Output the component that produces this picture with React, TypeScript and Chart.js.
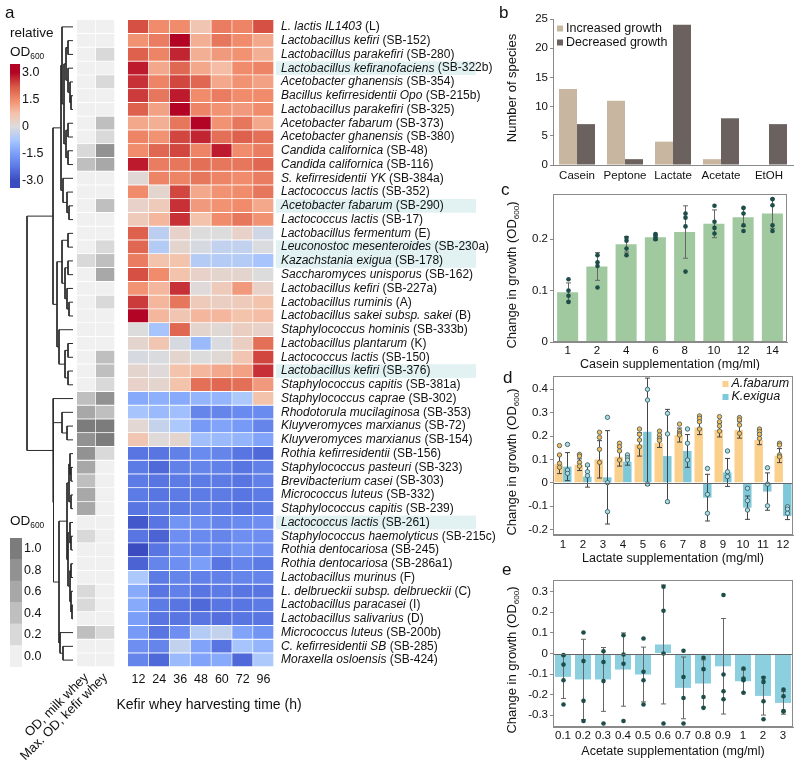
import React, { useEffect, useRef } from "react";
import { Chart, registerables } from "chart.js";
Chart.register(...registerables);

const FONT = "'Liberation Sans', Arial, Helvetica, sans-serif";
Chart.defaults.font.family = FONT;
Chart.defaults.color = "#111";

// ---------------- DATA ----------------
const TIMES = ["12", "24", "36", "48", "60", "72", "96"];
const OD_COLS = ["OD, milk whey", "Max. OD, kefir whey"];

const SPECIES = [
  "L. lactis IL1403", "Lactobacillus kefiri", "Lactobacillus parakefiri", "Lactobacillus kefiranofaciens",
  "Acetobacter ghanensis", "Bacillus kefirresidentii Opo", "Lactobacillus parakefiri", "Acetobacter fabarum",
  "Acetobacter ghanensis", "Candida californica", "Candida californica", "S. kefirresidentii YK",
  "Lactococcus lactis", "Acetobacter fabarum", "Lactococcus lactis", "Lactobacillus fermentum",
  "Leuconostoc mesenteroides", "Kazachstania exigua", "Saccharomyces unisporus", "Lactobacillus kefiri",
  "Lactobacillus ruminis", "Lactobacillus sakei subsp. sakei", "Staphylococcus hominis", "Lactobacillus plantarum",
  "Lactococcus lactis", "Lactobacillus kefiri", "Staphylococcus capitis", "Staphylococcus caprae",
  "Rhodotorula mucilaginosa", "Kluyveromyces marxianus", "Kluyveromyces marxianus", "Rothia kefirresidentii",
  "Staphylococcus pasteuri", "Brevibacterium casei", "Micrococcus luteus", "Staphylococcus capitis",
  "Lactococcus lactis", "Staphylococcus haemolyticus", "Rothia dentocariosa", "Rothia dentocariosa",
  "Lactobacillus murinus", "L. delbrueckii subsp. delbrueckii", "Lactobacillus paracasei", "Lactobacillus salivarius",
  "Micrococcus luteus", "C. kefirresidentii SB", "Moraxella osloensis",
];
const STRAINS = [
  "(L)", "(SB-152)", "(SB-280)", "(SB-322b)", "(SB-354)", "(SB-215b)", "(SB-325)", "(SB-373)", "(SB-380)",
  "(SB-48)", "(SB-116)", "(SB-384a)", "(SB-352)", "(SB-290)", "(SB-17)", "(E)", "(SB-230a)", "(SB-178)",
  "(SB-162)", "(SB-227a)", "(A)", "(B)", "(SB-333b)", "(K)", "(SB-150)", "(SB-376)", "(SB-381a)", "(SB-302)",
  "(SB-353)", "(SB-72)", "(SB-154)", "(SB-156)", "(SB-323)", "(SB-303)", "(SB-332)", "(SB-239)", "(SB-261)",
  "(SB-215c)", "(SB-245)", "(SB-286a1)", "(F)", "(C)", "(I)", "(D)", "(SB-200b)", "(SB-285)", "(SB-424)",
];
const HIGHLIGHT = [3, 13, 16, 17, 25, 36];

// relative OD600 per harvesting time (rows follow SPECIES)
const HM = [
  [2.3, 1.5, 1.5, 0.6, 1.7, 1.6, 2.3],
  [1.4, 1.7, 3.0, 1.0, 1.8, 1.5, 1.1],
  [2.1, 1.6, 2.7, 1.0, 1.3, 1.4, 1.0],
  [2.8, 1.1, 2.0, 1.1, 0.8, 1.5, 1.6],
  [2.6, 1.6, 2.4, 2.0, 1.1, 1.4, 1.2],
  [2.5, 1.8, 2.8, 1.5, 1.7, 1.5, 1.5],
  [2.1, 1.2, 3.0, 1.6, 1.4, 1.3, 1.5],
  [1.1, 1.0, 1.8, 3.0, 1.4, 1.8, 1.1],
  [1.6, 1.4, 2.4, 2.7, 1.9, 2.1, 1.9],
  [1.5, 2.0, 2.4, 1.6, 2.8, 1.5, 1.7],
  [2.8, 1.7, 1.8, 1.9, 1.8, 1.8, 2.0],
  [0.1, 1.6, 1.6, 1.8, 1.6, 1.5, 1.7],
  [1.5, 0.2, 2.4, 1.1, 1.4, 1.5, 1.8],
  [0.3, 0.5, 2.6, 1.3, 1.4, 1.5, 1.1],
  [0.5, 0.9, 2.6, 0.7, 1.5, 1.8, 1.4],
  [2.1, -0.5, 0.3, 0.0, 0.0, 0.3, -0.2],
  [2.0, -0.6, 0.2, -0.1, -0.4, -0.4, -0.05],
  [1.7, 0.7, 0.7, -0.6, -0.6, -0.6, -0.8],
  [2.3, 1.5, 0.7, 0.3, 0.2, 0.2, 0.0],
  [1.4, 0.9, 2.6, 0.05, 0.5, 1.3, 0.3],
  [2.5, 0.9, 1.8, 0.5, 0.4, 0.5, 0.7],
  [3.0, 0.9, 0.6, 0.9, 0.9, 0.7, 0.8],
  [0.0, -0.8, 2.0, 0.2, 0.1, 0.4, 0.3],
  [0.2, 0.6, -0.1, -1.0, -0.05, 0.4, 1.9],
  [-0.1, -0.05, 0.2, 0.0, 0.1, 0.6, 2.4],
  [0.2, 0.05, 0.7, 0.9, 1.1, 1.2, 2.6],
  [0.3, 0.2, 0.7, 1.9, 2.0, 1.9, 1.3],
  [-1.3, -1.2, -1.3, -1.1, -1.1, -0.7, 0.7],
  [-0.8, -1.0, -0.9, -2.0, -2.0, -1.9, -1.9],
  [0.15, -0.35, -0.7, -1.6, -1.4, -1.6, -2.0],
  [0.6, 0.05, 0.2, -0.9, -1.0, -1.1, -1.4],
  [-2.3, -2.3, -2.1, -1.9, -2.0, -2.3, -2.5],
  [-2.2, -2.5, -2.1, -2.0, -2.1, -2.3, -2.1],
  [-2.2, -2.3, -2.2, -2.2, -2.2, -2.3, -2.1],
  [-2.2, -2.3, -2.2, -2.2, -2.2, -2.3, -2.2],
  [-2.3, -2.2, -2.2, -2.1, -2.2, -2.3, -2.2],
  [-2.8, -2.3, -1.7, -1.8, -2.0, -1.9, -1.8],
  [-2.3, -2.6, -1.8, -1.9, -2.0, -1.8, -1.8],
  [-3.0, -2.3, -1.8, -1.9, -1.9, -1.7, -1.8],
  [-2.6, -2.0, -1.8, -1.5, -2.3, -2.0, -2.2],
  [-0.7, -2.2, -2.0, -2.1, -2.1, -2.0, -2.0],
  [-1.3, -2.3, -2.1, -2.3, -2.2, -2.3, -2.3],
  [-1.3, -2.2, -2.3, -2.5, -2.3, -2.3, -2.2],
  [-1.5, -2.3, -2.3, -2.3, -2.4, -2.3, -2.3],
  [-1.6, -2.3, -1.8, -0.6, -0.4, -1.4, -1.7],
  [-1.8, -2.0, -0.4, -1.4, -2.3, -0.8, -1.1],
  [-2.0, -2.5, -1.0, -1.4, -1.3, -2.5, -0.7],
];

const OD_MILK = [
  0, 0, 0, 0, 0, 0, 0, 0, 0, 0.2, 0.4, 0, 0, 0, 0, 0, 0, 0.2, 0, 0, 0, 0, 0, 0,
  0, 0, 0, 0.4, 0.6, 1.0, 0.8, 0.8, 0.6, 0.4, 0.6, 0.6, 0, 0.2, 0, 0, 0, 0.2, 0.2, 0, 0.4, 0, 0,
];
const OD_KEFIR = [
  0, 0, 0.2, 0, 0.2, 0, 0, 0.4, 0.2, 0.8, 0.6, 0, 0, 0.4, 0, 0, 0.2, 0.4, 0.6, 0, 0.2, 0, 0, 0,
  0.4, 0.4, 0.2, 0.8, 0.4, 1.0, 1.0, 0.2, 0, 0, 0, 0, 0, 0, 0, 0, 0, 0, 0, 0, 0.2, 0, 0,
];
const OD_LEVELS = [0, 0.2, 0.4, 0.6, 0.8, 1.0];
const CB_TICKS = [3, 1.5, 0, -1.5, -3];

// hierarchical clustering: [left, right, linkage distance]; numbers are row indices
const DENDRO: any = [
  [
    [
      [0, [[[1, 2, 5], [3, [4, [5, 6, 2], 3], 5], 7], [[7, 8, 5], [9, 10, 5], 7], 9], 11],
      [11, [12, [13, 14, 4], 6], 10],
      12,
    ],
    [
      [[15, 16, 5], [[17, 18, 5], [19, [20, 21, 4], 6], 8], 11],
      [22, [[23, 24, 5], [25, 26, 5], 8], 14],
      16,
    ],
    20,
  ],
  [
    27,
    [
      [28, [29, 30, 6], 11],
      [
        [[[31, [32, 33, 2], 3], [34, 35, 2], 4], [[36, [37, 38, 2], 3], [[39, 40, 2], [41, [42, 43, 1], 2], 3], 5], 6],
        [44, [45, 46, 10], 13],
        14,
      ],
      19.5,
    ],
    20,
  ],
  46,
];

// panel b
const B_CATS = ["Casein", "Peptone", "Lactate", "Acetate", "EtOH"];
const B_INC = [13, 11, 4, 1, 0];
const B_DEC = [7, 1, 24, 8, 7];

// panel c
const C_CATS = ["1", "2", "4", "6", "8", "10", "12", "14"];
const C_MEAN = [0.097, 0.147, 0.19, 0.204, 0.214, 0.23, 0.243, 0.25];
const C_ERR = [0.018, 0.027, 0.015, 0.006, 0.051, 0.027, 0.018, 0.029];
const C_PTS = [
  [0.122, 0.1, 0.09, 0.078],
  [0.169, 0.155, 0.148, 0.106],
  [0.203, 0.197, 0.182, 0.169],
  [0.21, 0.207, 0.203, 0.2],
  [0.25, 0.242, 0.225, 0.137],
  [0.265, 0.234, 0.222, 0.211],
  [0.261, 0.25, 0.227, 0.216],
  [0.278, 0.266, 0.227, 0.216],
];

// panel d
const D_CATS = ["1", "2", "3", "4", "5", "6", "7", "8", "9", "10", "11", "12"];
const D_AF_MEAN = [0.079, 0.077, 0.1, 0.111, 0.164, 0.171, 0.204, 0.236, 0.226, 0.226, 0.183, 0.116];
const D_AF_ERR = [0.04, 0.025, 0.08, 0.04, 0.05, 0.02, 0.03, 0.03, 0.03, 0.035, 0.02, 0.03];
const D_AF_PTS = [
  [0.159, 0.119, 0.083, 0.066], [0.121, 0.114, 0.087, 0.071], [0.216, 0.194, 0.143, 0.087],
  [0.169, 0.154, 0.136, 0.097], [0.23, 0.207, 0.183, 0.154], [0.221, 0.204, 0.19, 0.181],
  [0.251, 0.221, 0.21, 0.204], [0.286, 0.276, 0.261, 0.23], [0.283, 0.261, 0.243, 0.221],
  [0.279, 0.269, 0.247, 0.211], [0.23, 0.219, 0.207, 0.19], [0.169, 0.161, 0.119, 0.111],
];
const D_KE_MEAN = [0.069, 0.026, 0.023, 0.09, 0.218, 0.114, 0.136, -0.064, 0.044, -0.107, -0.038, -0.143];
const D_KE_ERR = [0.06, 0.045, 0.2, 0.015, 0.23, 0.2, 0.07, 0.1, 0.06, 0.05, 0.08, 0.015];
const D_KE_PTS = [
  [0.164, 0.054, 0.04], [0.076, 0.047, 0.03], [0.28, 0.0, -0.124], [0.119, 0.107, 0.097],
  [0.4, 0.354, -0.006], [0.297, 0.209, -0.081], [0.23, 0.169, 0.097], [0.061, -0.05, -0.131],
  [0.136, 0.047, 0.026], [-0.024, -0.077, -0.117], [0.064, -0.006, -0.099], [-0.103, -0.113, -0.131],
];

// panel e
const E_CATS = ["0.1", "0.2", "0.3", "0.4", "0.5", "0.6", "0.7", "0.8", "0.9", "1", "2", "3"];
const E_MEAN = [-0.1135, -0.126, -0.126, -0.078, -0.102, 0.044, -0.167, -0.146, -0.062, -0.135, -0.206, -0.24];
const E_ERR = [0.105, 0.195, 0.155, 0.178, 0.133, 0.289, 0.15, 0.115, 0.232, 0.055, 0.093, 0.055];
const E_PTS = [
  [-0.008, -0.054, -0.13, -0.248], [0.102, -0.037, -0.23, -0.328], [0.011, -0.041, -0.134, -0.34],
  [0.089, -0.005, -0.05, -0.328], [0.073, -0.089, -0.13, -0.248], [0.324, 0.208, 0.0, -0.34],
  [0.013, -0.114, -0.216, -0.34], [-0.021, -0.076, -0.211, -0.264], [0.284, -0.102, -0.183, -0.222],
  [-0.073, -0.122, -0.13, -0.191], [-0.118, -0.138, -0.232, -0.319], [-0.175, -0.208, -0.279, -0.282],
];

// ---------------- STYLE HELPERS ----------------
const AX = "#8a8a8a";
const CW_STOPS: [number, number[]][] = [
  [0, [59, 76, 192]], [0.125, [90, 120, 228]], [0.25, [123, 159, 249]], [0.375, [170, 199, 253]],
  [0.5, [221, 220, 220]], [0.625, [245, 193, 169]], [0.75, [240, 139, 107]], [0.875, [216, 86, 69]],
  [1, [180, 4, 38]],
];
function coolwarm(v: number) {
  const t = Math.max(0, Math.min(1, (v + 3) / 6));
  for (let i = 1; i < CW_STOPS.length; i++) {
    const [t1, c1] = CW_STOPS[i];
    const [t0, c0] = CW_STOPS[i - 1];
    if (t <= t1) {
      const f = (t - t0) / (t1 - t0);
      return `rgb(${c0.map((c, k) => Math.round(c + (c1[k] - c) * f)).join(",")})`;
    }
  }
  return "rgb(180,4,38)";
}
const GREYS = ["#f0f0f0", "#d9d9d9", "#bfbfbf", "#a8a8a8", "#929292", "#7c7c7c"];
const grey = (v: number) => GREYS[Math.max(0, Math.min(5, Math.round(v / 0.2)))];

type Part = { t: string; sub?: boolean; it?: boolean };
type Box = { x: number; y: number; w: number; h: number };
const fontStr = (s: number, it?: boolean) => `${it ? "italic " : ""}${s}px ${FONT}`;

function drawParts(ctx: CanvasRenderingContext2D, parts: Part[], x: number, y: number, size: number, align: string, rot?: boolean) {
  ctx.save();
  ctx.fillStyle = "#111";
  ctx.textBaseline = "middle";
  ctx.textAlign = "left";
  const widths = parts.map((p) => {
    ctx.font = fontStr(p.sub ? size * 0.62 : size, p.it);
    return ctx.measureText(p.t).width;
  });
  const total = widths.reduce((a, b) => a + b, 0);
  ctx.translate(x, y);
  if (rot) ctx.rotate(-Math.PI / 2);
  let cx = align === "center" ? -total / 2 : 0;
  parts.forEach((p, i) => {
    ctx.font = fontStr(p.sub ? size * 0.62 : size, p.it);
    ctx.fillText(p.t, cx, p.sub ? size * 0.33 : 0);
    cx += widths[i];
  });
  ctx.restore();
}

type TextItem = { parts: Part[]; x: number; y: number; size: number; align?: string; rot?: boolean };
function textPlugin(box: Box, items: TextItem[]) {
  return {
    id: "texts",
    afterDraw(chart: any) {
      items.forEach((it) => drawParts(chart.ctx, it.parts, it.x - box.x, it.y - box.y, it.size, it.align || "left", it.rot));
    },
  };
}

function legendPlugin(box: Box, items: { x: number; y: number; it?: boolean }[]) {
  return {
    id: "mylegend",
    afterDraw(chart: any) {
      const ctx = chart.ctx;
      items.forEach((p, i) => {
        const ds = chart.data.datasets[i];
        ctx.save();
        ctx.fillStyle = ds.backgroundColor;
        ctx.fillRect(p.x - box.x, p.y - box.y - 3, 6, 6);
        ctx.restore();
        drawParts(ctx, [{ t: ds.label, it: p.it }], p.x - box.x + 9, p.y - box.y, 12.5, "left");
      });
    },
  };
}

type ErrSeries = { err: number[]; pts: number[][]; fill: string; stroke?: string; r: number };
function errPlugin(series: ErrSeries[], color: string) {
  return {
    id: "errbars",
    afterDatasetsDraw(chart: any) {
      const ctx = chart.ctx;
      const y = chart.scales.y;
      series.forEach((s, di) => {
        const meta = chart.getDatasetMeta(di);
        const vals = chart.data.datasets[di].data;
        meta.data.forEach((el: any, j: number) => {
          const x = Math.round(el.x) + 0.5;
          const m = vals[j];
          const e = s.err[j];
          const y1 = y.getPixelForValue(m - e);
          const y2 = y.getPixelForValue(m + e);
          ctx.save();
          ctx.strokeStyle = color;
          ctx.lineWidth = 1;
          ctx.beginPath();
          ctx.moveTo(x, y1); ctx.lineTo(x, y2);
          ctx.moveTo(x - 2.5, y1); ctx.lineTo(x + 2.5, y1);
          ctx.moveTo(x - 2.5, y2); ctx.lineTo(x + 2.5, y2);
          ctx.stroke();
          s.pts[j].forEach((p) => {
            ctx.beginPath();
            ctx.arc(x, y.getPixelForValue(p), s.r, 0, Math.PI * 2);
            ctx.fillStyle = s.fill;
            ctx.fill();
            if (s.stroke) {
              ctx.strokeStyle = s.stroke;
              ctx.lineWidth = 0.9;
              ctx.stroke();
            }
          });
          ctx.restore();
        });
      });
    },
  };
}

function framePlugin(zero: boolean) {
  return {
    id: "frame",
    afterDraw(chart: any) {
      const { ctx, chartArea: a } = chart;
      ctx.save();
      if (zero) {
        const y0 = Math.round(chart.scales.y.getPixelForValue(0)) + 0.5;
        ctx.strokeStyle = "#666";
        ctx.lineWidth = 1;
        ctx.beginPath();
        ctx.moveTo(a.left, y0);
        ctx.lineTo(a.right, y0);
        ctx.stroke();
      }
      ctx.strokeStyle = AX;
      ctx.lineWidth = 1;
      ctx.strokeRect(Math.round(a.left) + 0.5, Math.round(a.top) + 0.5, Math.round(a.right - a.left) - 1, Math.round(a.bottom - a.top) - 1);
      ctx.restore();
    },
  };
}

const baseOpts = (padding: any) => ({
  responsive: false,
  animation: false,
  devicePixelRatio: 1,
  events: [],
  layout: { padding },
  plugins: { legend: { display: false }, tooltip: { enabled: false } },
});

function panelScales(yMin: number, yMax: number, step: number, xPad: number, xH: number) {
  return {
    x: {
      grid: { display: false, drawTicks: false },
      border: { display: true, color: AX },
      ticks: { font: { size: 11.5 }, color: "#111", padding: xPad, maxRotation: 0, autoSkip: false },
      afterFit: (s: any) => { s.height = xH; },
    },
    y: {
      min: yMin,
      max: yMax,
      ticks: { stepSize: step, includeBounds: false, font: { size: 11.5 }, color: "#111", padding: 2 },
      grid: { display: true, drawOnChartArea: false, drawTicks: true, tickLength: 3, color: AX },
      border: { display: true, color: AX },
      afterFit: (s: any) => { s.width = 58; },
    },
  };
}

// ---------------- BOXES ----------------
const BOX_CB1: Box = { x: 0, y: 0, w: 60, h: 200 };
const BOX_CB2: Box = { x: 0, y: 505, w: 60, h: 175 };
const BOX_DG: Box = { x: 25, y: 18, w: 50, h: 651 };
const BOX_GC: Box = { x: -23, y: 12, w: 143, h: 754 };
const BOX_HM: Box = { x: 100, y: 12, w: 700, h: 754 };
const BOX_B: Box = { x: 495, y: 0, w: 305, h: 190 };
const BOX_C: Box = { x: 495, y: 176, w: 298, h: 194 };
const BOX_D: Box = { x: 495, y: 366, w: 305, h: 204 };
const BOX_E: Box = { x: 495, y: 560, w: 305, h: 206 };

const YT: Part[] = [{ t: "Change in growth (OD" }, { t: "600", sub: true }, { t: ")" }];

// ---------------- CONFIGS ----------------
function cb1Config() {
  return {
    type: "bar",
    data: {
      labels: [""],
      datasets: [{
        data: [[-3.42, 3.48]],
        barPercentage: 1,
        categoryPercentage: 1,
        borderWidth: 0,
        backgroundColor: (c: any) => {
          const ch = c.chart;
          const ys = ch.scales.y;
          if (!ch.chartArea || !ys) return "#ddd";
          const g = ch.ctx.createLinearGradient(0, ys.getPixelForValue(-3), 0, ys.getPixelForValue(3));
          CW_STOPS.forEach(([t, col]) => g.addColorStop(t, `rgb(${col.join(",")})`));
          return g;
        },
      }],
    },
    options: {
      ...baseOpts({ left: 10, top: 64, right: 10, bottom: 12 }),
      scales: {
        x: { display: false },
        y: {
          position: "right",
          min: -3.42,
          max: 3.48,
          afterBuildTicks: (s: any) => { s.ticks = CB_TICKS.map((v) => ({ value: v })); },
          ticks: { callback: (v: any) => (v === 0 ? "0" : Number(v).toFixed(1)), font: { size: 12.5 }, color: "#111", padding: 2 },
          grid: { display: false, drawTicks: false },
          border: { display: false },
          afterFit: (s: any) => { s.width = 30; },
        },
      },
    },
    plugins: [textPlugin(BOX_CB1, [
      { parts: [{ t: "a" }], x: 5, y: 13, size: 17 },
      { parts: [{ t: "relative" }], x: 10, y: 33, size: 13.5 },
      { parts: [{ t: "OD" }, { t: "600", sub: true }], x: 10, y: 52, size: 13.5 },
    ])],
  };
}

function cb2Config() {
  return {
    type: "bar",
    data: {
      labels: [""],
      datasets: OD_LEVELS.map((v) => ({
        data: [[v - 0.1, v + 0.1]],
        backgroundColor: grey(v),
        grouped: false,
        barPercentage: 1,
        categoryPercentage: 1,
        borderWidth: 0,
      })),
    },
    options: {
      ...baseOpts({ left: 10, top: 33, right: 8, bottom: 13 }),
      scales: {
        x: { display: false },
        y: {
          position: "right",
          min: -0.1,
          max: 1.1,
          afterBuildTicks: (s: any) => { s.ticks = OD_LEVELS.map((v) => ({ value: v })); },
          ticks: { callback: (v: any) => Number(v).toFixed(1), font: { size: 12.5 }, color: "#111", padding: 2 },
          grid: { display: false, drawTicks: false },
          border: { display: false },
          afterFit: (s: any) => { s.width = 30; },
        },
      },
    },
    plugins: [textPlugin(BOX_CB2, [
      { parts: [{ t: "OD" }, { t: "600", sub: true }], x: 10, y: 521, size: 13.5 },
    ])],
  };
}

function dendroConfig() {
  const pts: any[] = [];
  const walk = (n: any): { d: number; y: number } => {
    if (typeof n === "number") return { d: 0, y: n + 0.5 };
    const A = walk(n[0]);
    const B = walk(n[1]);
    const h = n[2];
    pts.push({ x: A.d, y: A.y }, { x: h, y: A.y }, { x: h, y: B.y }, { x: B.d, y: B.y }, { x: null, y: null });
    return { d: h, y: (A.y + B.y) / 2 };
  };
  walk(DENDRO);
  return {
    type: "scatter",
    data: {
      datasets: [{ data: pts, showLine: true, spanGaps: false, borderColor: "#2a2a2a", borderWidth: 1, pointRadius: 0, clip: false }],
    },
    options: {
      ...baseOpts(2),
      scales: {
        x: { type: "linear", min: 0, max: 46, reverse: true, display: false },
        y: { type: "linear", min: 0, max: SPECIES.length, reverse: true, display: false },
      },
    },
  };
}

function greyColsConfig() {
  return {
    type: "bar",
    data: {
      labels: OD_COLS,
      datasets: SPECIES.map((s, i) => ({
        label: s,
        data: [1, 1],
        backgroundColor: [grey(OD_MILK[i]), grey(OD_KEFIR[i])],
        borderColor: "#ffffff",
        borderWidth: { top: 0, left: 0, right: 1, bottom: 1 },
        borderSkipped: false,
        barPercentage: 1,
        categoryPercentage: 1,
      })),
    },
    options: {
      ...baseOpts({ left: 100, top: 8, right: 2, bottom: 0 }),
      scales: {
        x: {
          stacked: true,
          grid: { display: false, drawTicks: false },
          border: { display: false },
          ticks: { font: { size: 13 }, color: "#111", padding: 3, minRotation: 45, maxRotation: 45, autoSkip: false },
          afterFit: (s: any) => { s.height = 99; },
        },
        y: { stacked: true, min: 0, max: SPECIES.length, reverse: true, display: false },
      },
    },
  };
}

function heatConfig() {
  const speciesPlugin = {
    id: "species",
    afterDraw(chart: any) {
      const { ctx, chartArea: a, scales } = chart;
      const y = scales.y;
      ctx.save();
      HIGHLIGHT.forEach((i) => {
        const t = y.getPixelForValue(i);
        const b = y.getPixelForValue(i + 1);
        ctx.fillStyle = "#e2f2f3";
        ctx.fillRect(a.right + 2, t, 200, b - t);
      });
      ctx.restore();
      SPECIES.forEach((sp, i) => {
        drawParts(ctx, [{ t: sp + " ", it: true }, { t: STRAINS[i] }], a.right + 7, y.getPixelForValue(i + 0.5), 12, "left");
      });
    },
  };
  return {
    type: "bar",
    data: {
      labels: TIMES,
      datasets: HM.map((row, i) => ({
        label: SPECIES[i],
        data: row.map(() => 1),
        backgroundColor: row.map(coolwarm),
        borderColor: "#ffffff",
        borderWidth: { top: 0, left: 0, right: 1, bottom: 1 },
        borderSkipped: false,
        barPercentage: 1,
        categoryPercentage: 1,
      })),
    },
    options: {
      ...baseOpts({ left: 28, top: 8, right: 526, bottom: 0 }),
      scales: {
        x: {
          stacked: true,
          grid: { display: false, drawTicks: false },
          border: { display: false },
          ticks: { font: { size: 12.5 }, color: "#111", padding: 5, maxRotation: 0, autoSkip: false },
          afterFit: (s: any) => { s.height = 99; },
        },
        y: { stacked: true, min: 0, max: SPECIES.length, reverse: true, display: false },
      },
    },
    plugins: [speciesPlugin, textPlugin(BOX_HM, [
      { parts: [{ t: "Kefir whey harvesting time (h)" }], x: 209, y: 705, size: 14, align: "center" },
    ])],
  };
}

function bConfig() {
  return {
    type: "bar",
    data: {
      labels: B_CATS,
      datasets: [
        { label: "Increased growth", data: B_INC, backgroundColor: "#c9b6a0", categoryPercentage: 0.75, barPercentage: 1 },
        { label: "Decreased growth", data: B_DEC, backgroundColor: "#6b625f", categoryPercentage: 0.75, barPercentage: 1 },
      ],
    },
    options: {
      ...baseOpts({ left: 0, top: 19, right: 7, bottom: 0 }),
      scales: panelScales(0, 25, 5, 4, 25),
    },
    plugins: [
      legendPlugin(BOX_B, [{ x: 557, y: 28.5 }, { x: 557, y: 42.5 }]),
      textPlugin(BOX_B, [
        { parts: [{ t: "b" }], x: 499, y: 13, size: 17 },
        { parts: [{ t: "Number of species" }], x: 512, y: 88, size: 13, align: "center", rot: true },
      ]),
    ],
  };
}

function cConfig() {
  return {
    type: "bar",
    data: {
      labels: C_CATS,
      datasets: [{ label: "Casein", data: C_MEAN, backgroundColor: "#a0c9a0", categoryPercentage: 0.72, barPercentage: 1 }],
    },
    options: {
      ...baseOpts({ left: 0, top: 18, right: 6, bottom: 0 }),
      scales: panelScales(0, 0.288, 0.1, 2, 28),
    },
    plugins: [
      errPlugin([{ err: C_ERR, pts: C_PTS, fill: "#1d4d48", r: 2.3 }], "#666"),
      framePlugin(false),
      textPlugin(BOX_C, [
        { parts: [{ t: "c" }], x: 501, y: 190, size: 17 },
        { parts: YT, x: 512, y: 275, size: 13, align: "center", rot: true },
        { parts: [{ t: "Casein supplementation (mg/ml)" }], x: 670, y: 365, size: 12.5, align: "center" },
      ]),
    ],
  };
}

function dConfig() {
  return {
    type: "bar",
    data: {
      labels: D_CATS,
      datasets: [
        { label: "A.fabarum", data: D_AF_MEAN, backgroundColor: "#fbd08c", categoryPercentage: 0.86, barPercentage: 0.98 },
        { label: "K.exigua", data: D_KE_MEAN, backgroundColor: "#7dc8d9", categoryPercentage: 0.86, barPercentage: 0.98 },
      ],
    },
    options: {
      ...baseOpts({ left: 0, top: 10, right: 7, bottom: 0 }),
      scales: panelScales(-0.224, 0.457, 0.1, 3, 35),
    },
    plugins: [
      errPlugin([
        { err: D_AF_ERR, pts: D_AF_PTS, fill: "#f3bd5e", stroke: "#50615e", r: 2.2 },
        { err: D_KE_ERR, pts: D_KE_PTS, fill: "#a9dde8", stroke: "#3d5f62", r: 2.2 },
      ], "#444"),
      framePlugin(true),
      legendPlugin(BOX_D, [{ x: 722.5, y: 384, it: true }, { x: 722.5, y: 397, it: true }]),
      textPlugin(BOX_D, [
        { parts: [{ t: "d" }], x: 503, y: 378, size: 17 },
        { parts: YT, x: 512, y: 462, size: 13, align: "center", rot: true },
        { parts: [{ t: "Lactate supplementation (mg/ml)" }], x: 673, y: 559, size: 12.5, align: "center" },
      ]),
    ],
  };
}

function eConfig() {
  return {
    type: "bar",
    data: {
      labels: E_CATS,
      datasets: [{ label: "Acetate", data: E_MEAN, backgroundColor: "#8ccfdf", categoryPercentage: 0.8, barPercentage: 1 }],
    },
    options: {
      ...baseOpts({ left: 0, top: 20, right: 7, bottom: 0 }),
      scales: panelScales(-0.357, 0.357, 0.1, 2, 39),
    },
    plugins: [
      errPlugin([{ err: E_ERR, pts: E_PTS, fill: "#1d4d48", r: 2.3 }], "#666"),
      framePlugin(true),
      textPlugin(BOX_E, [
        { parts: [{ t: "e" }], x: 502, y: 570, size: 17 },
        { parts: YT, x: 512, y: 660, size: 13, align: "center", rot: true },
        { parts: [{ t: "Acetate supplementation (mg/ml)" }], x: 673, y: 752, size: 12.5, align: "center" },
      ]),
    ],
  };
}

// ---------------- COMPONENTS ----------------
function ChartCanvas({ box, make }: { box: Box; make: () => any }) {
  const ref = useRef<HTMLCanvasElement | null>(null);
  useEffect(() => {
    if (!ref.current) return;
    const chart = new Chart(ref.current, make());
    return () => chart.destroy();
  }, []);
  return (
    <canvas
      ref={ref}
      width={box.w}
      height={box.h}
      style={{ position: "absolute", left: box.x, top: box.y, width: box.w, height: box.h }}
    />
  );
}

export default function App() {
  return (
    <div style={{ position: "absolute", left: 0, top: 0, width: 800, height: 766, background: "#fff", overflow: "hidden" }}>
      <ChartCanvas box={BOX_HM} make={heatConfig} />
      <ChartCanvas box={BOX_GC} make={greyColsConfig} />
      <ChartCanvas box={BOX_DG} make={dendroConfig} />
      <ChartCanvas box={BOX_CB1} make={cb1Config} />
      <ChartCanvas box={BOX_CB2} make={cb2Config} />
      <ChartCanvas box={BOX_B} make={bConfig} />
      <ChartCanvas box={BOX_C} make={cConfig} />
      <ChartCanvas box={BOX_D} make={dConfig} />
      <ChartCanvas box={BOX_E} make={eConfig} />
    </div>
  );
}
